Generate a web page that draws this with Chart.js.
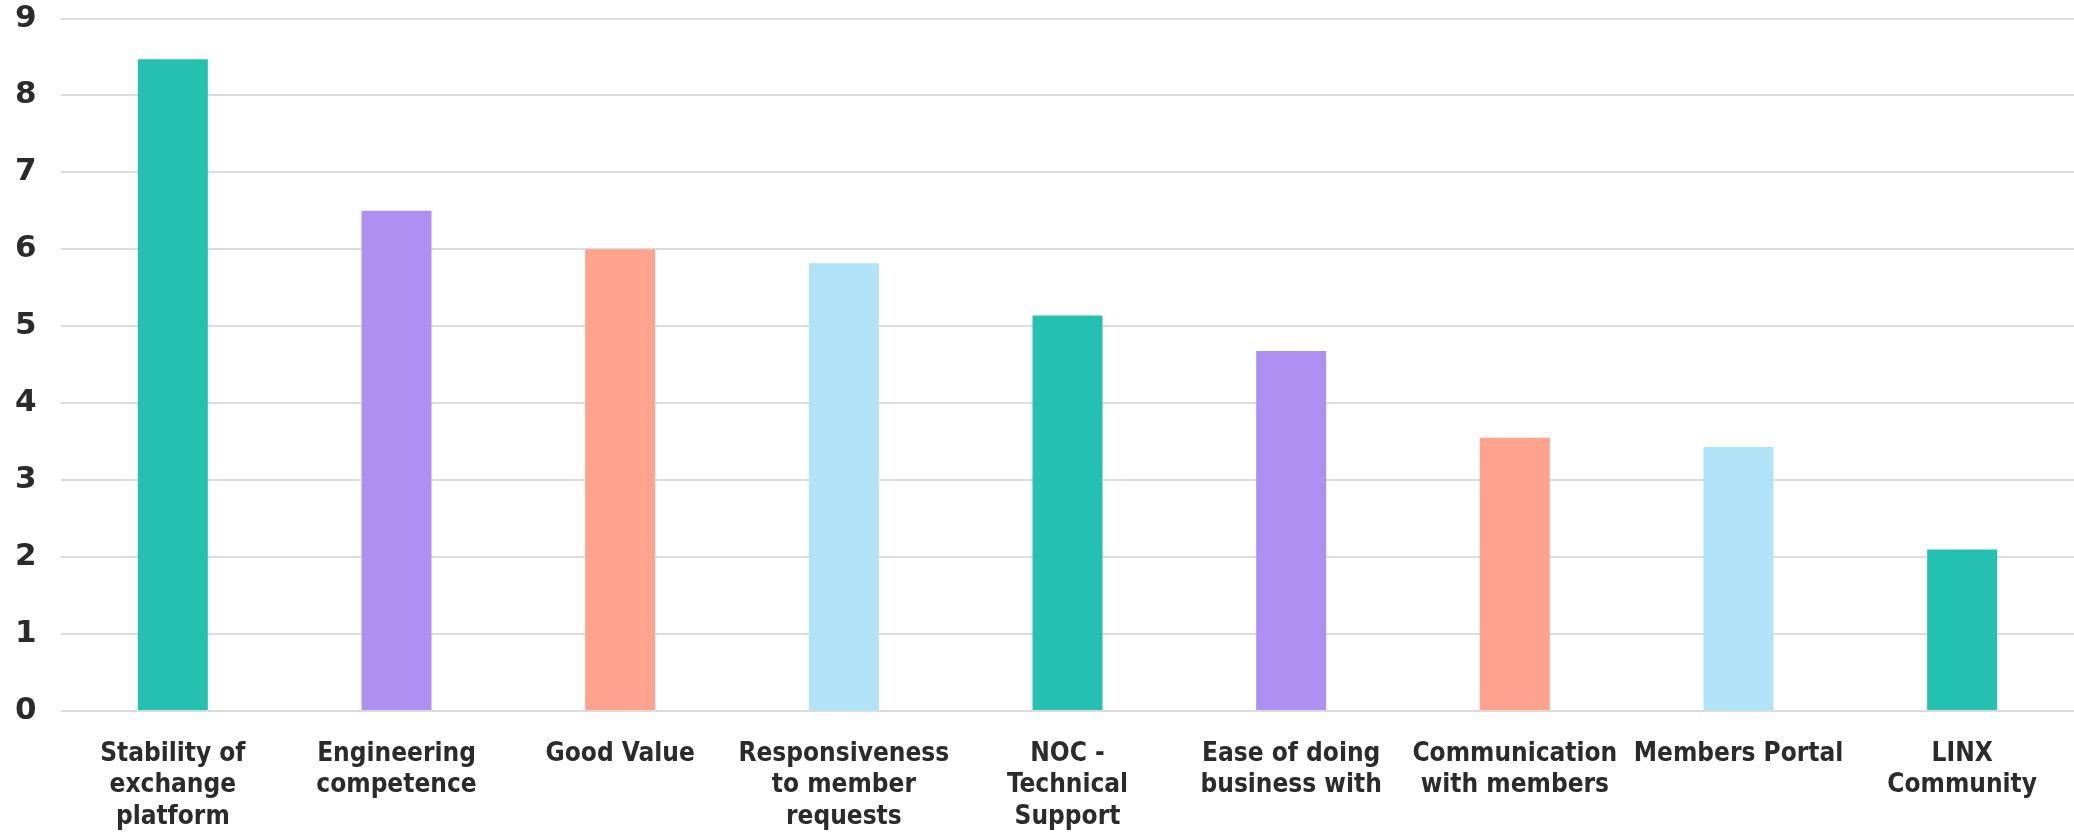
<!DOCTYPE html>
<html>
<head>
<meta charset="utf-8">
<script src="https://cdn.jsdelivr.net/npm/chart.js@4/dist/chart.umd.min.js"></script>
<style>
  html, body { margin: 0; padding: 0; background: #fff; }
  #wrap { width: 2074px; height: 834px; }
</style>
</head>
<body>
<div id="wrap"><canvas id="chartCanvas" width="2074" height="834"></canvas></div>
<script>
// --- Data ---
const categories = [
  ["Stability of", "exchange", "platform"],
  ["Engineering", "competence"],
  "Good Value",
  ["Responsiveness", "to member", "requests"],
  ["NOC -", "Technical", "Support"],
  ["Ease of doing", "business with"],
  ["Communication", "with members"],
  "Members Portal",
  ["LINX", "Community"]
];
const scores = [8.47, 6.5, 6.0, 5.82, 5.14, 4.68, 3.55, 3.43, 2.1];
const yTicks = [0, 1, 2, 3, 4, 5, 6, 7, 8, 9];

// colours cycle every four bars
const palette = ["#25c1b0", "#ae8ff2", "#ffa38f", "#b0e2f8"];
const barColors = scores.map((_, i) => palette[i % palette.length]);

const textColor = "#2b2b2b";

// --- Chart ---
const ctx = document.getElementById("chartCanvas").getContext("2d");
new Chart(ctx, {
  type: "bar",
  data: {
    labels: categories,
    datasets: [{
      data: scores,
      backgroundColor: barColors,
      categoryPercentage: 1,
      barPercentage: 0.313
    }]
  },
  options: {
    responsive: false,
    animation: false,
    layout: { padding: { top: 0, left: 15, right: 0, bottom: 0 } },
    plugins: {
      legend: { display: false },
      tooltip: { enabled: false }
    },
    scales: {
      x: {
        grid: { display: false },
        border: { display: false },
        ticks: {
          color: textColor,
          autoSkip: false,
          maxRotation: 0,
          padding: 19,
          font: { family: "'DejaVu Sans Condensed', 'DejaVu Sans', sans-serif", size: 26, weight: "bold", lineHeight: 1.22 }
        },
        afterFit: scale => { scale.height = 123; }
      },
      y: {
        min: yTicks[0],
        max: yTicks[yTicks.length - 1],
        afterBuildTicks: scale => { scale.ticks = yTicks.map(v => ({ value: v })); },
        grid: { color: "#dcdcdc", lineWidth: 2, drawTicks: false },
        border: { display: false },
        ticks: {
          color: textColor,
          crossAlign: "far",
          font: { family: "'DejaVu Sans', sans-serif", size: 31, weight: "bold", lineHeight: 1.0 }
        },
        afterFit: scale => { scale.width = 46; }
      }
    }
  }
});
</script>
</body>
</html>
